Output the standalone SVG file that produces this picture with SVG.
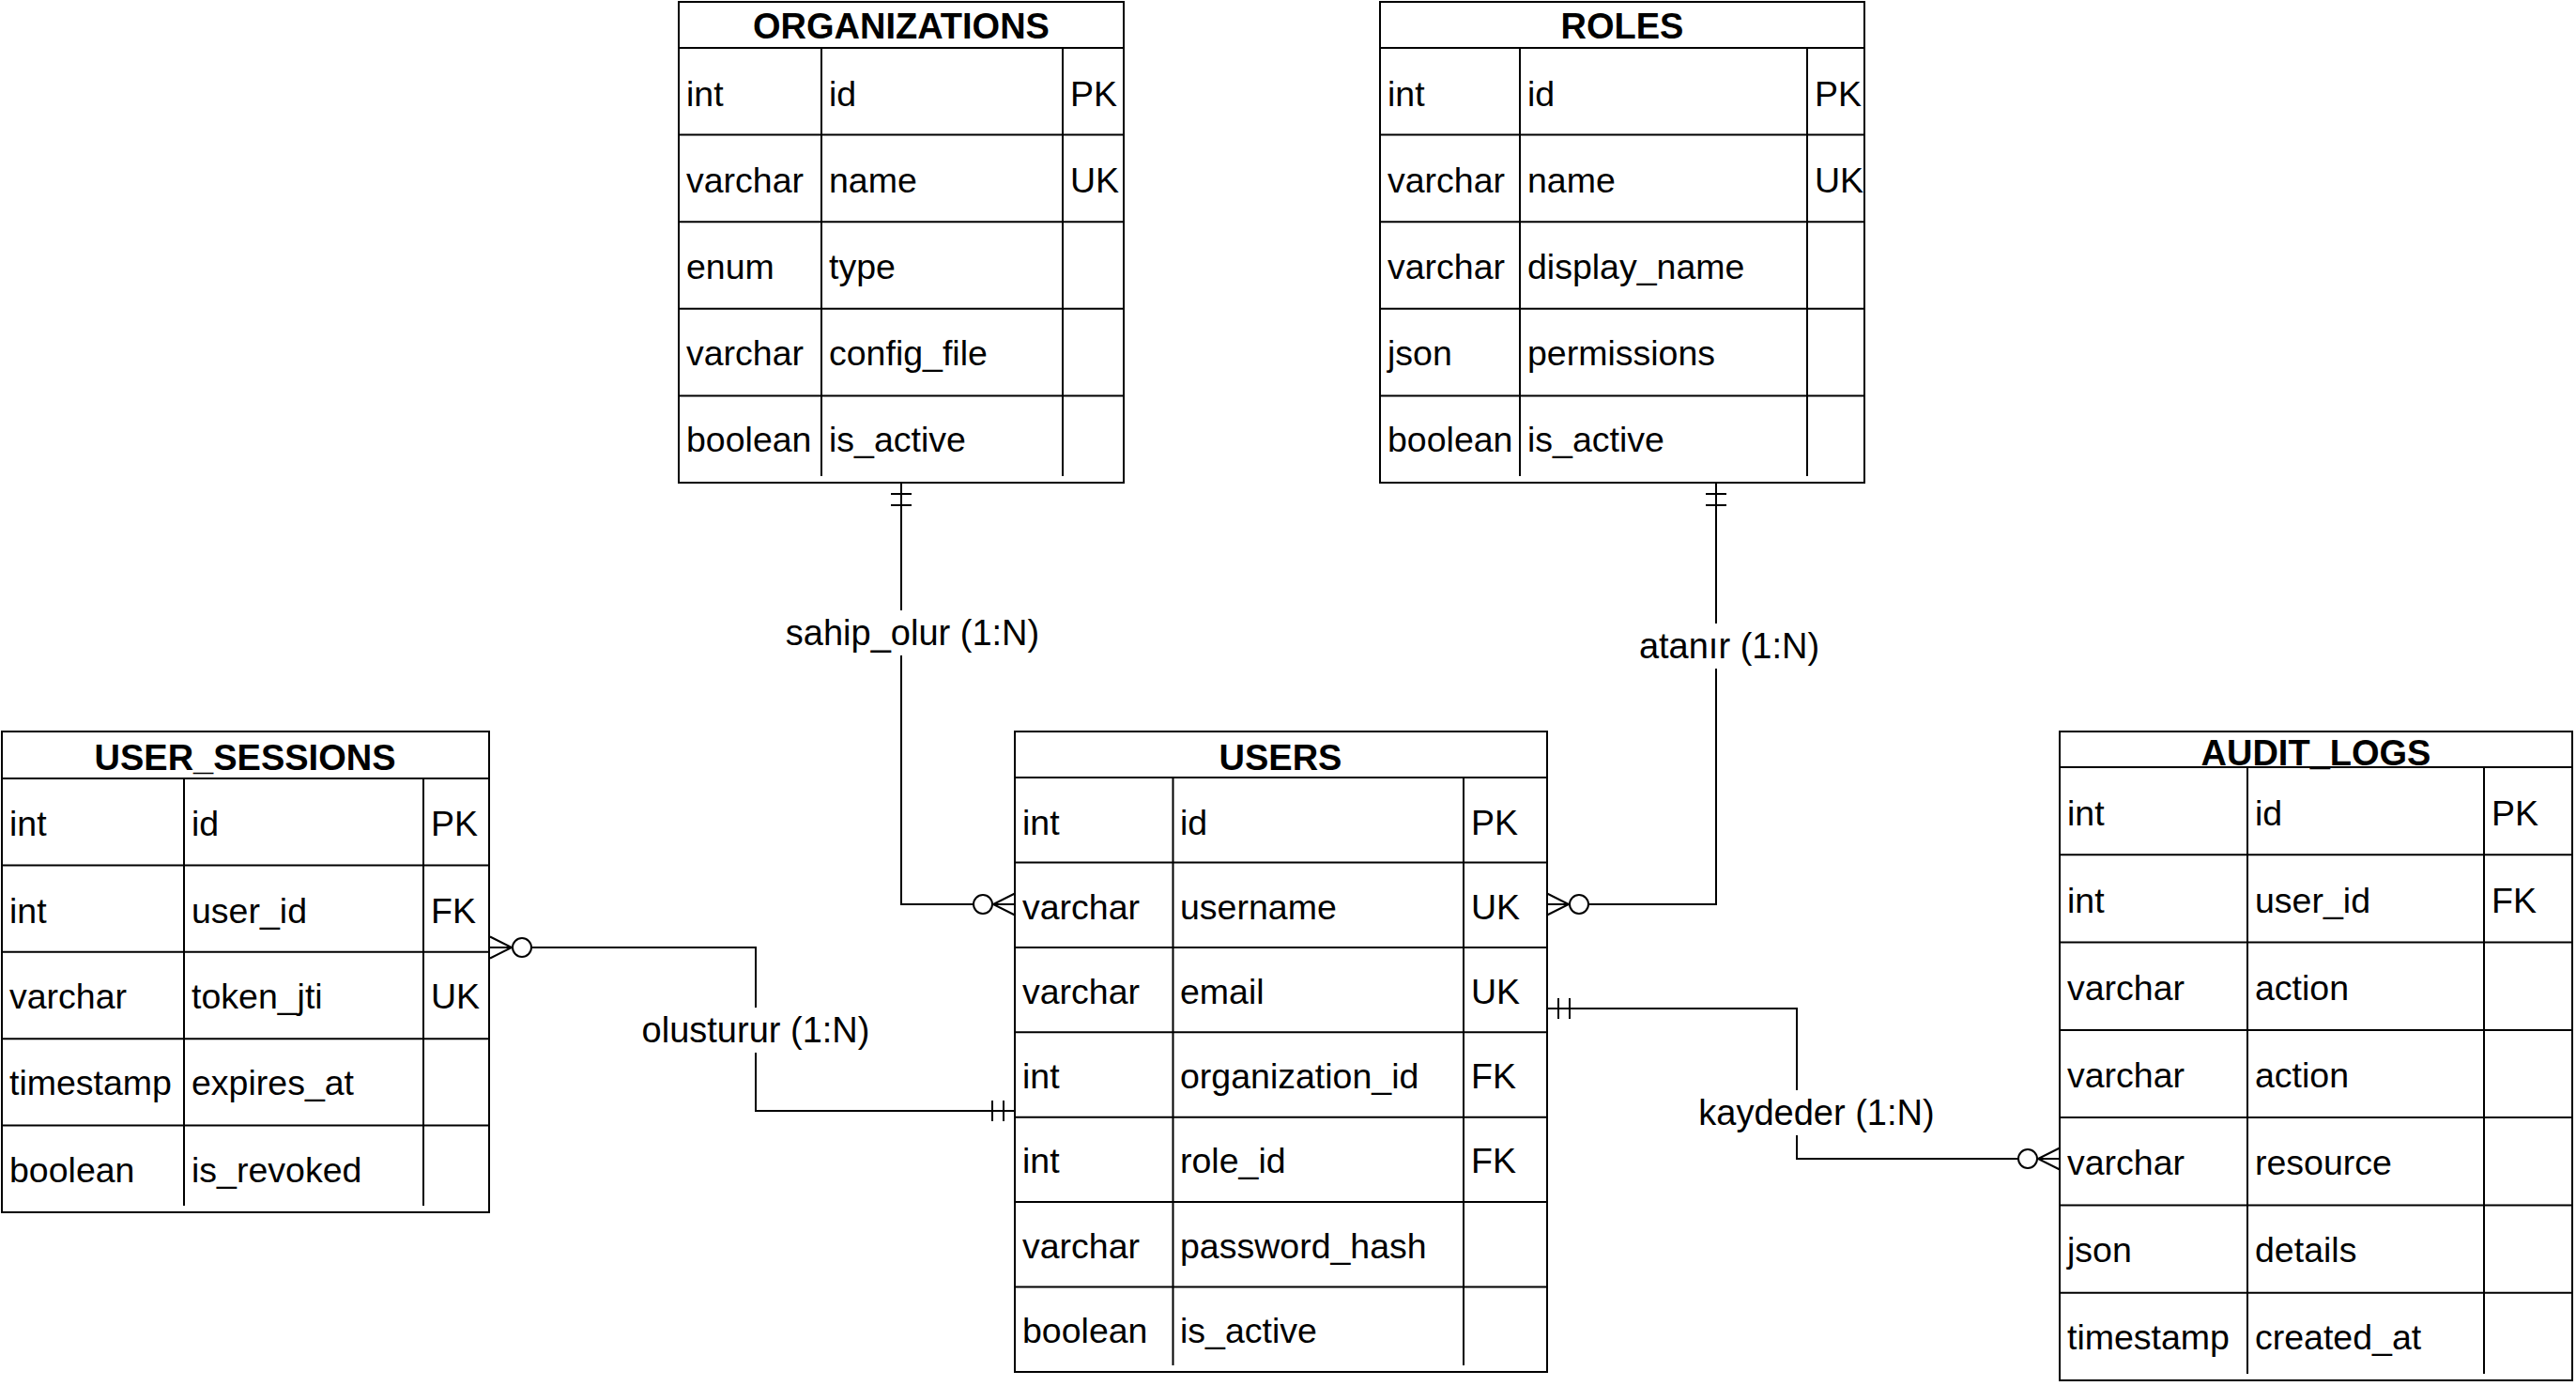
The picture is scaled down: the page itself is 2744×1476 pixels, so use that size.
<svg xmlns="http://www.w3.org/2000/svg" width="2744" height="1476" viewBox="0 0 2744 1476">
<style>
.bg{fill:#fff}
.tbl{fill:#fff;stroke:#000;stroke-width:2}
.ln{stroke:#000;stroke-width:2;fill:none}
.hdr{font-family:"Liberation Sans",Arial,sans-serif;font-size:38px;font-weight:bold;text-anchor:middle;dominant-baseline:central;fill:#000}
.cell{font-family:"Liberation Sans",Arial,sans-serif;font-size:37.5px;dominant-baseline:central;fill:#000}
.conn{fill:none;stroke:#000;stroke-width:2}
.lblbg{fill:#fff}
.lbl{font-family:"Liberation Sans",Arial,sans-serif;font-size:38px;text-anchor:middle;dominant-baseline:central;fill:#000}
</style>
<defs>
<marker id="many" markerUnits="userSpaceOnUse" viewBox="-50 -15 52 30" markerWidth="52" markerHeight="30" refX="0" refY="0" orient="auto-start-reverse" overflow="visible">
<path d="M0,-11.5 L-23,0 L0,11.5 M-23,0 L0,0" fill="none" stroke="#000" stroke-width="2"/>
<circle cx="-34" cy="0" r="10" fill="#fff" stroke="#000" stroke-width="2"/>
</marker>
<marker id="one" markerUnits="userSpaceOnUse" viewBox="-30 -15 32 30" markerWidth="32" markerHeight="30" refX="0" refY="0" orient="auto-start-reverse" overflow="visible">
<path d="M-12,-11 L-12,11 M-24,-11 L-24,11" fill="none" stroke="#000" stroke-width="2"/>
</marker>
</defs>
<rect class="bg" x="0" y="0" width="2744" height="1476"/>

<g id="connectors">
<path class="conn" d="M960,514 L960,963 L1081,963" marker-start="url(#one)" marker-end="url(#many)"/>
<path class="conn" d="M1828,514 L1828,963 L1648,963" marker-start="url(#one)" marker-end="url(#many)"/>
<path class="conn" d="M1081,1183 L805,1183 L805,1009 L522,1009" marker-start="url(#one)" marker-end="url(#many)"/>
<path class="conn" d="M1648,1074 L1914,1074 L1914,1234 L2194,1234" marker-start="url(#one)" marker-end="url(#many)"/>
<rect class="lblbg" x="832" y="650" width="280" height="48"/>
<text class="lbl" x="972" y="674">sahip_olur (1:N)</text>
<rect class="lblbg" x="1742" y="664" width="200" height="48"/>
<text class="lbl" x="1842" y="688">atanır (1:N)</text>
<rect class="lblbg" x="680" y="1073" width="250" height="48"/>
<text class="lbl" x="805" y="1097">olusturur (1:N)</text>
<rect class="lblbg" x="1805" y="1161" width="260" height="48"/>
<text class="lbl" x="1935" y="1185">kaydeder (1:N)</text>
</g>

<g id="organizations">
<rect class="tbl" x="723" y="2" width="474" height="512"/>
<path class="ln" d="M723,51H1197 M723,143.6H1197 M723,236.2H1197 M723,328.8H1197 M723,421.4H1197 M875,51V507 M1132,51V507"/>
<text class="hdr" x="960" y="28">ORGANIZATIONS</text>
<text class="cell" x="731" y="100">int</text><text class="cell" x="883" y="100">id</text><text class="cell" x="1140" y="100">PK</text>
<text class="cell" x="731" y="192">varchar</text><text class="cell" x="883" y="192">name</text><text class="cell" x="1140" y="192">UK</text>
<text class="cell" x="731" y="284">enum</text><text class="cell" x="883" y="284">type</text>
<text class="cell" x="731" y="376">varchar</text><text class="cell" x="883" y="376">config_file</text>
<text class="cell" x="731" y="468">boolean</text><text class="cell" x="883" y="468">is_active</text>
</g>

<g id="roles">
<rect class="tbl" x="1470" y="2" width="516" height="512"/>
<path class="ln" d="M1470,51H1986 M1470,143.6H1986 M1470,236.2H1986 M1470,328.8H1986 M1470,421.4H1986 M1619,51V507 M1925,51V507"/>
<text class="hdr" x="1728" y="28">ROLES</text>
<text class="cell" x="1478" y="100">int</text><text class="cell" x="1627" y="100">id</text><text class="cell" x="1933" y="100">PK</text>
<text class="cell" x="1478" y="192">varchar</text><text class="cell" x="1627" y="192">name</text><text class="cell" x="1933" y="192">UK</text>
<text class="cell" x="1478" y="284">varchar</text><text class="cell" x="1627" y="284">display_name</text>
<text class="cell" x="1478" y="376">json</text><text class="cell" x="1627" y="376">permissions</text>
<text class="cell" x="1478" y="468">boolean</text><text class="cell" x="1627" y="468">is_active</text>
</g>

<g id="user_sessions">
<rect class="tbl" x="2" y="779" width="519" height="512"/>
<path class="ln" d="M2,829H521 M2,921.4H521 M2,1013.8H521 M2,1106.2H521 M2,1198.6H521 M196,829V1284 M451,829V1284"/>
<text class="hdr" x="261" y="807">USER_SESSIONS</text>
<text class="cell" x="10" y="877">int</text><text class="cell" x="204" y="877">id</text><text class="cell" x="459" y="877">PK</text>
<text class="cell" x="10" y="970">int</text><text class="cell" x="204" y="970">user_id</text><text class="cell" x="459" y="970">FK</text>
<text class="cell" x="10" y="1061">varchar</text><text class="cell" x="204" y="1061">token_jti</text><text class="cell" x="459" y="1061">UK</text>
<text class="cell" x="10" y="1153">timestamp</text><text class="cell" x="204" y="1153">expires_at</text>
<text class="cell" x="10" y="1246">boolean</text><text class="cell" x="204" y="1246">is_revoked</text>
</g>

<g id="users">
<rect class="tbl" x="1081" y="779" width="567" height="682"/>
<path class="ln" d="M1081,828H1648 M1081,918.4H1648 M1081,1008.9H1648 M1081,1099.3H1648 M1081,1189.7H1648 M1081,1280.1H1648 M1081,1370.6H1648 M1249.5,828V1454 M1559,828V1454"/>
<text class="hdr" x="1364" y="807">USERS</text>
<text class="cell" x="1089" y="876">int</text><text class="cell" x="1257" y="876">id</text><text class="cell" x="1567" y="876">PK</text>
<text class="cell" x="1089" y="966">varchar</text><text class="cell" x="1257" y="966">username</text><text class="cell" x="1567" y="966">UK</text>
<text class="cell" x="1089" y="1056">varchar</text><text class="cell" x="1257" y="1056">email</text><text class="cell" x="1567" y="1056">UK</text>
<text class="cell" x="1089" y="1146">int</text><text class="cell" x="1257" y="1146">organization_id</text><text class="cell" x="1567" y="1146">FK</text>
<text class="cell" x="1089" y="1236">int</text><text class="cell" x="1257" y="1236">role_id</text><text class="cell" x="1567" y="1236">FK</text>
<text class="cell" x="1089" y="1327">varchar</text><text class="cell" x="1257" y="1327">password_hash</text>
<text class="cell" x="1089" y="1417">boolean</text><text class="cell" x="1257" y="1417">is_active</text>
</g>

<g id="audit_logs">
<rect class="tbl" x="2194" y="779" width="546" height="691"/>
<path class="ln" d="M2194,817H2740 M2194,910.3H2740 M2194,1003.6H2740 M2194,1096.9H2740 M2194,1190.1H2740 M2194,1283.4H2740 M2194,1376.7H2740 M2394,817V1463 M2646,817V1463"/>
<text class="hdr" x="2467" y="802">AUDIT_LOGS</text>
<text class="cell" x="2202" y="866">int</text><text class="cell" x="2402" y="866">id</text><text class="cell" x="2654" y="866">PK</text>
<text class="cell" x="2202" y="959">int</text><text class="cell" x="2402" y="959">user_id</text><text class="cell" x="2654" y="959">FK</text>
<text class="cell" x="2202" y="1052">varchar</text><text class="cell" x="2402" y="1052">action</text>
<text class="cell" x="2202" y="1145">varchar</text><text class="cell" x="2402" y="1145">action</text>
<text class="cell" x="2202" y="1238">varchar</text><text class="cell" x="2402" y="1238">resource</text>
<text class="cell" x="2202" y="1331">json</text><text class="cell" x="2402" y="1331">details</text>
<text class="cell" x="2202" y="1424">timestamp</text><text class="cell" x="2402" y="1424">created_at</text>
</g>
</svg>
